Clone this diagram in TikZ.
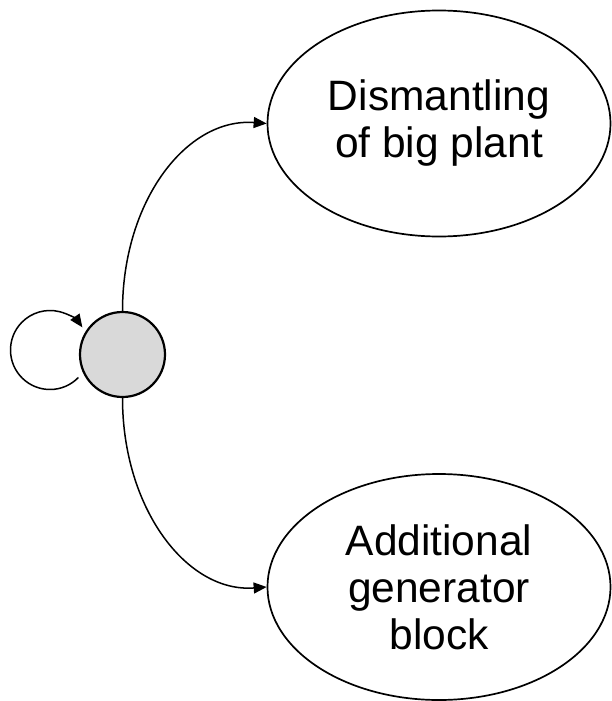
\documentclass[tikz,border=0pt]{standalone}
\usepackage{fontspec}
\setmainfont{Liberation Sans}
\usetikzlibrary{shapes.geometric,arrows.meta,calc}
\begin{document}
\begin{tikzpicture}[x=1pt,y=-1pt,
  state/.style={ellipse,draw,line width=1.7pt,minimum width=343pt,minimum height=226pt,inner sep=0pt,align=center,font=\fontsize{42.5}{47}\selectfont},
  hub/.style={circle,draw,line width=2.2pt,fill=black!15,minimum size=85pt,inner sep=0pt},
  conn/.style={line width=1.5pt,-{Triangle[length=13pt,width=11pt]}}]
\useasboundingbox (0,0) rectangle (611,701);
\node[hub] (g) at (122.5,354.5) {};
\node[state] (top) at (439,123.5) {Dismantling\\of big plant};
\node[state] (bot) at (439,587) {Additional\\generator\\block};
\draw[conn] (g.north) .. controls +(0,-110) and +(-80,-6) .. (top.west);
\draw[conn] (g.south) .. controls +(0,110) and +(-80,6) .. (bot.west);
\coordinate (lc) at (50,350);
\draw[conn] ($(lc)+(44:39.5)$) arc[start angle=44,end angle=325,radius=39.5];
\end{tikzpicture}
\end{document}
